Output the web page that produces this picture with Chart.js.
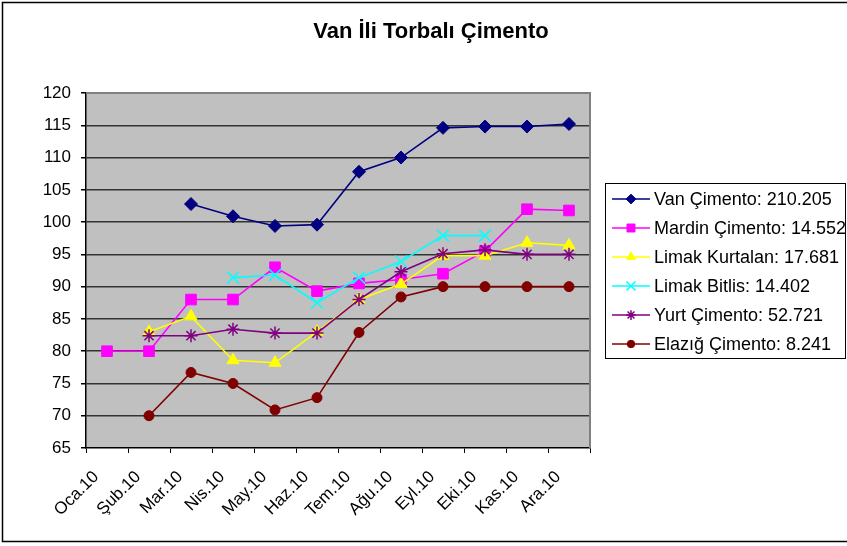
<!DOCTYPE html>
<html>
<head>
<meta charset="utf-8">
<script src="https://cdn.jsdelivr.net/npm/chart.js@4/dist/chart.umd.min.js"></script>
<style>
  html, body { margin: 0; padding: 0; background: #fff; }
  #wrap { width: 847px; height: 546px; position: relative; }
</style>
</head>
<body>
<div id="wrap"><canvas id="cimentoChart" width="847" height="546"></canvas></div>
<script>
// Van İli Torbalı Çimento - monthly prices 2010

const months = ["Oca.10", "Şub.10", "Mar.10", "Nis.10", "May.10", "Haz.10",
  "Tem.10", "Ağu.10", "Eyl.10", "Eki.10", "Kas.10", "Ara.10"];

const seriesNames = [
  "Van Çimento: 210.205",
  "Mardin Çimento: 14.552",
  "Limak Kurtalan: 17.681",
  "Limak Bitlis: 14.402",
  "Yurt Çimento: 52.721",
  "Elazığ Çimento: 8.241",
];

const vanValues = [null, null, 102.8, 100.9, 99.4, 99.6, 107.8, 110, 114.6, 114.8, 114.8, 115.2];
const mardinValues = [80, 80, 88, 88, 93, 89.3, 90.5, 91.1, 92, 95.5, 102, 101.8];
const kurtalanValues = [null, 83, 85.4, 78.6, 78.2, 83, 88, 90.4, 94.8, 94.8, 96.8, 96.4];
const bitlisValues = [null, null, null, 91.4, 91.8, 87.5, 91.4, 93.9, 97.9, 97.9, null, null];
const yurtValues = [null, 82.4, 82.4, 83.4, 82.8, 82.8, 88, 92.3, 95.1, 95.7, 95, 95];
const elazigValues = [null, 70, 76.7, 75, 70.9, 72.8, 82.9, 88.4, 90, 90, 90, 90];

const yTicks = [65, 70, 75, 80, 85, 90, 95, 100, 105, 110, 115, 120];

const FONT = "'Liberation Sans', Arial, sans-serif";

document.addEventListener("DOMContentLoaded", () => {
  const ctx = document.getElementById("cimentoChart");

  const styles = [
    { color: "#000080", point: "rectRot", radius: 6.5, bw: 1 },
    { color: "#FF00FF", point: "rect", radius: 7.5, bw: 1 },
    { color: "#FFFF00", point: "triangle", radius: 7, bw: 1 },
    { color: "#00FFFF", point: "crossRot", radius: 8.5, bw: 1.5 },
    { color: "#800080", point: "star", radius: 6.5, bw: 1.5 },
    { color: "#800000", point: "circle", radius: 5, bw: 1 },
  ];
  const allValues = [vanValues, mardinValues, kurtalanValues, bitlisValues, yurtValues, elazigValues];

  const datasets = allValues.map((vals, i) => ({
    label: seriesNames[i],
    data: vals,
    borderColor: styles[i].color,
    backgroundColor: styles[i].color,
    pointBackgroundColor: styles[i].color,
    pointBorderColor: styles[i].color,
    pointStyle: styles[i].point,
    pointRadius: styles[i].radius,
    pointBorderWidth: styles[i].bw,
    borderWidth: 1.6,
    tension: 0,
    spanGaps: false,
    order: 6 - i, // later series drawn on top, like the original
  }));

  // Plot background, frame, title and boxed legend
  const decorPlugin = {
    id: "decor",
    beforeDraw(chart) {
      const c = chart.ctx;
      const a = chart.chartArea;
      c.save();
      c.fillStyle = "#fff";
      c.fillRect(0, 0, chart.width, chart.height);
      c.fillStyle = "#C0C0C0";
      c.fillRect(a.left, a.top, a.right - a.left, a.bottom - a.top);
      c.restore();
    },
    afterDraw(chart) {
      const c = chart.ctx;
      const a = chart.chartArea;
      c.save();
      // plot frame (top / right)
      c.strokeStyle = "#808080";
      c.lineWidth = 2;
      c.beginPath();
      c.moveTo(a.left, a.top);
      c.lineTo(a.right, a.top);
      c.lineTo(a.right, a.bottom);
      c.stroke();

      // outer chart border
      c.strokeStyle = "#000";
      c.lineWidth = 1.5;
      c.strokeRect(2.5, 2.5, chart.width + 10, 539);

      // title
      c.fillStyle = "#000";
      c.font = "bold 22px " + FONT;
      c.textAlign = "center";
      c.textBaseline = "middle";
      c.fillText("Van İli Torbalı Çimento", 431, 32);

      // legend box
      c.fillStyle = "#fff";
      c.fillRect(605, 183, 240, 175);
      c.strokeStyle = "#000";
      c.lineWidth = 1;
      c.strokeRect(605.5, 183.5, 240, 175);
      c.font = "18px " + FONT;
      c.textAlign = "left";
      chart.data.datasets.forEach((ds, i) => {
        const y = 199 + i * 29;
        c.strokeStyle = ds.borderColor;
        c.lineWidth = 1.6;
        c.beginPath();
        c.moveTo(612, y);
        c.lineTo(650, y);
        c.stroke();
        c.fillStyle = ds.pointBackgroundColor;
        c.strokeStyle = ds.pointBorderColor;
        c.lineWidth = ds.pointBorderWidth;
        Chart.helpers.drawPoint(c, {
          pointStyle: ds.pointStyle,
          radius: ds.pointRadius * 0.75,
          rotation: 0,
          borderWidth: ds.pointBorderWidth,
        }, 631, y);
        c.fillStyle = "#000";
        c.fillText(ds.label, 654, y + 1);
      });
      c.restore();
    },
  };

  new Chart(ctx, {
    type: "line",
    data: { labels: months, datasets },
    options: {
      responsive: false,
      animation: false,
      events: [],
      layout: { padding: { top: 93, right: 257, bottom: 0, left: 0 } },
      plugins: {
        legend: { display: false },
        title: { display: false },
        tooltip: { enabled: false },
      },
      scales: {
        x: {
          type: "category",
          offset: true,
          grid: {
            offset: true,
            drawOnChartArea: false,
            drawTicks: true,
            tickLength: 5,
            tickColor: "#000",
          },
          border: { color: "#000", width: 1.5 },
          ticks: {
            autoSkip: false,
            minRotation: 45,
            maxRotation: 45,
            labelOffset: -11,
            padding: 14,
            color: "#000",
            font: { family: FONT, size: 17 },
          },
          afterFit(scale) { scale.height = 98; },
        },
        y: {
          min: 65,
          max: 120,
          afterBuildTicks(scale) {
            scale.ticks = yTicks.map((v) => ({ value: v }));
          },
          grid: {
            color: (c) => (c.tick && c.tick.value === 65 ? "rgba(0,0,0,0)" : "#333"),
            lineWidth: 1.5,
            tickLength: 5,
            tickColor: "#000",
          },
          border: { color: "#000", width: 1.5 },
          ticks: {
            padding: 10,
            color: "#000",
            font: { family: FONT, size: 17 },
          },
          afterFit(scale) { scale.width = 86; },
        },
      },
    },
    plugins: [decorPlugin],
  });
});
</script>
</body>
</html>
